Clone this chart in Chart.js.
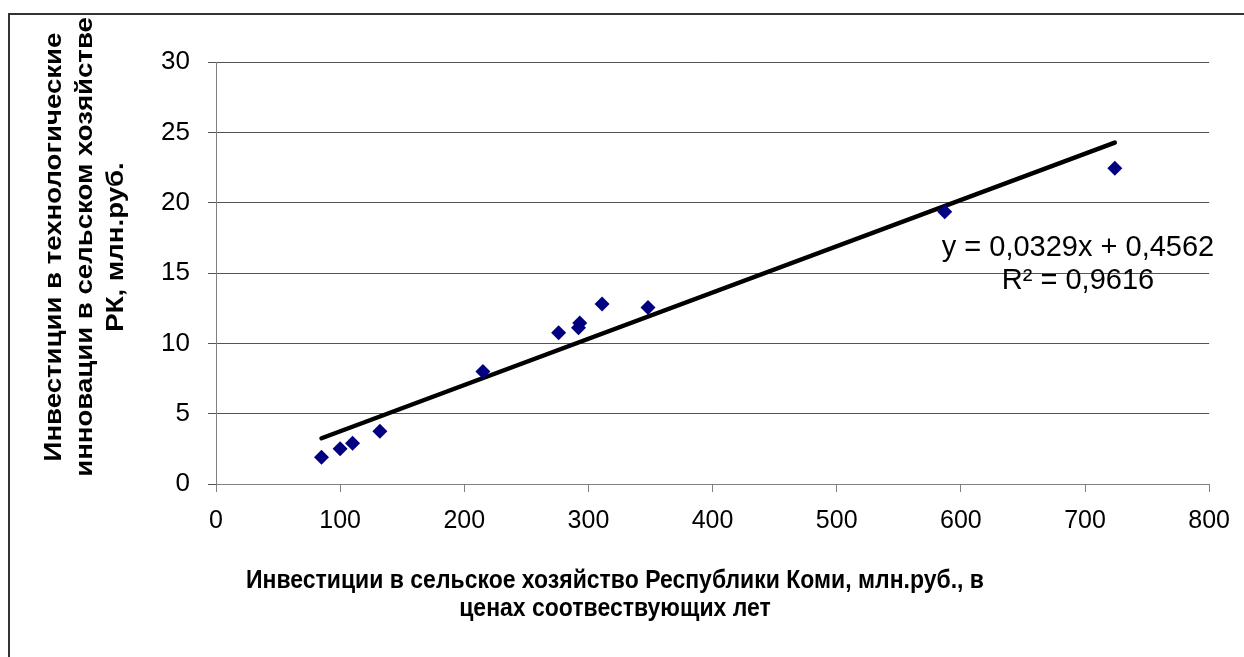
<!DOCTYPE html>
<html>
<head>
<meta charset="utf-8">
<script src="https://cdn.jsdelivr.net/npm/chart.js@4.4.1/dist/chart.umd.min.js"></script>
<style>
  html, body { margin: 0; padding: 0; background: #fff; overflow: hidden; }
  #frame { position: absolute; left: 8px; top: 13px; width: 1300px; height: 700px;
           border-left: 2px solid #333; border-top: 2px solid #333; }
  #wrap { position: absolute; left: 0; top: 0; width: 1244px; height: 657px; }
</style>
</head>
<body>
<div id="frame"></div>
<div id="wrap"><canvas id="chart" width="1244" height="657"></canvas></div>
<script>
// investments in agriculture (x) vs investments in tech innovation (y)
const investAgro = [85, 100, 110, 132, 215, 276, 292, 293, 311, 348, 587, 724];
const investInnov = [1.9, 2.5, 2.9, 3.75, 8.0, 10.75, 11.1, 11.45, 12.8, 12.55, 19.35, 22.45];

// linear trend as shown on the chart
const trendSlope = 0.0329;
const trendIntercept = 0.4562;
const trendLabel = ['y = 0,0329x + 0,4562', 'R\u00B2 = 0,9616'];

const xTitle = ['Инвестиции в сельское хозяйство Республики Коми, млн.руб., в', 'ценах соотвествующих лет'];
const yTitle = ['Инвестиции в технологические', 'инновации в сельском хозяйстве', 'РК, млн.руб.'];

const xMin = Math.min(...investAgro);
const xMax = Math.max(...investAgro);
const trendPoints = [xMin, xMax].map(x => ({ x: x, y: trendSlope * x + trendIntercept }));

const points = investAgro.map((x, i) => ({ x: x, y: investInnov[i] }));

const FONT = '"Liberation Sans", Arial, sans-serif';

// titles and trend label drawn by hand so they sit where the original has them
const textPlugin = {
    id: 'textPlugin',
    afterDraw(chart) {
        const ctx = chart.ctx;
        ctx.save();
        ctx.fillStyle = '#000';
        ctx.textAlign = 'center';
        ctx.textBaseline = 'middle';

        // y axis title, rotated and a bit stretched along the text like the original
        ctx.font = 'bold 24px ' + FONT;
        const yLineX = [54, 85, 116];
        yTitle.forEach((line, i) => {
            ctx.save();
            ctx.translate(yLineX[i], 247);
            ctx.rotate(-Math.PI / 2);
            ctx.scale(1.15, 1);
            ctx.fillText(line, 0, 0);
            ctx.restore();
        });

        // x axis title, slightly taller glyphs
        ctx.font = 'bold 23px ' + FONT;
        xTitle.forEach((line, i) => {
            ctx.save();
            ctx.translate(615, 581 + i * 28);
            ctx.scale(1, 1.15);
            ctx.fillText(line, 0, 0);
            ctx.restore();
        });

        // trend equation
        ctx.font = '29px ' + FONT;
        trendLabel.forEach((line, i) => {
            ctx.fillText(line, 1078, 248 + i * 33);
        });
        ctx.restore();
    }
};

const ctx = document.getElementById('chart').getContext('2d');
// eslint-disable-next-line no-undef, no-unused-vars
const chart = new Chart(ctx, {
    type: 'scatter',
    data: {
        datasets: [
            {
                label: 'Тренд',
                data: trendPoints,
                showLine: true,
                borderColor: '#000',
                borderWidth: 4.5,
                pointRadius: 0,
                borderCapStyle: 'round',
                order: 2
            },
            {
                label: 'Данные',
                data: points,
                pointStyle: 'rectRot',
                pointRadius: 7.5,
                pointHoverRadius: 7.5,
                backgroundColor: '#000080',
                borderColor: '#000080',
                borderWidth: 0,
                order: 1
            }
        ]
    },
    options: {
        responsive: false,
        animation: false,
        events: [],
        layout: { padding: { top: 62, right: 33, left: 0, bottom: 0 } },
        plugins: {
            legend: { display: false },
            tooltip: { enabled: false }
        },
        scales: {
            x: {
                type: 'linear',
                min: 0,
                max: 800,
                afterFit: scale => { scale.height = 173; },
                ticks: {
                    stepSize: 100,
                    color: '#000',
                    padding: 14,
                    maxRotation: 0,
                    font: { family: FONT, size: 25 }
                },
                grid: {
                    drawOnChartArea: false,
                    drawTicks: true,
                    tickLength: 8,
                    color: '#808080'
                },
                border: { display: true, color: '#808080', width: 1 },
                title: { display: false, text: xTitle }
            },
            y: {
                min: 0,
                max: 30,
                afterFit: scale => { scale.width = 216; },
                ticks: {
                    stepSize: 5,
                    color: '#000',
                    padding: 18,
                    font: { family: FONT, size: 26 }
                },
                grid: {
                    color: '#555',
                    lineWidth: 1,
                    drawTicks: true,
                    tickLength: 8
                },
                border: { display: true, color: '#808080', width: 1 },
                title: { display: false, text: yTitle }
            }
        }
    },
    plugins: [textPlugin]
});
</script>
</body>
</html>
